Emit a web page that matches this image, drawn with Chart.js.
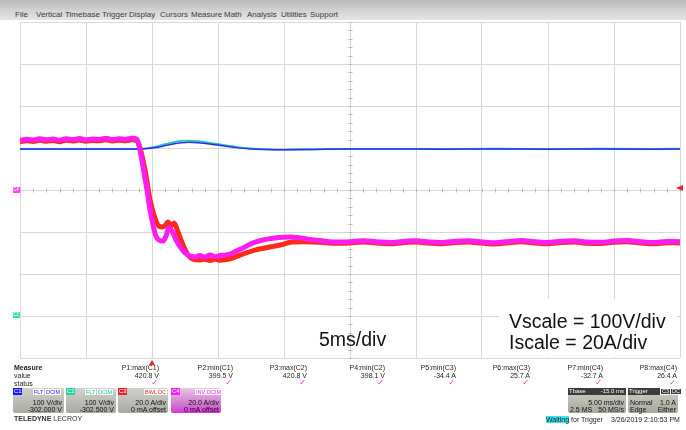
<!DOCTYPE html>
<html><head><meta charset="utf-8">
<script src="https://cdn.jsdelivr.net/npm/chart.js@4/dist/chart.umd.min.js"></script>
<style>
html,body{margin:0;padding:0;background:#fff;}
#wrap{position:relative;width:686px;height:430px;overflow:hidden;background:#fff;font-family:"Liberation Sans",Arial,sans-serif;}
#c{position:absolute;left:0;top:0;}
.t{position:absolute;white-space:nowrap;line-height:8px;font-size:7px;color:#222;}
.menu{position:absolute;left:0;top:0;width:686px;height:20px;background:linear-gradient(#b9b9b9,#d6d6d6 60%,#e4e4e4);}
.mi{position:absolute;top:11px;font-size:8px;line-height:8px;color:#3a3a3a;}
.big{position:absolute;white-space:nowrap;font-size:19.5px;line-height:20px;color:#111;}
.box{position:absolute;height:25px;border-radius:2px;background:linear-gradient(#d2d2cc,#a9a9a2);}
.hdr{position:absolute;left:0;top:0;height:7px;font-size:6px;line-height:7px;color:#fff;padding:0 1px;}
.bdg{position:absolute;top:1px;height:6px;font-size:5.5px;line-height:6px;background:#fff;padding:0 1px;}
.r{position:absolute;right:2px;font-size:7px;line-height:7px;color:#111;white-space:nowrap;}
.l{position:absolute;left:2px;font-size:7px;line-height:7px;color:#111;white-space:nowrap;}
</style></head><body>
<div id="wrap">
<canvas id="c" width="686" height="430"></canvas>
<div class="menu">
<span class="mi" style="left:15px">File</span><span class="mi" style="left:36px">Vertical</span><span class="mi" style="left:65px">Timebase</span><span class="mi" style="left:102px">Trigger</span><span class="mi" style="left:129px">Display</span><span class="mi" style="left:160px">Cursors</span><span class="mi" style="left:191px">Measure</span><span class="mi" style="left:224px">Math</span><span class="mi" style="left:247px">Analysis</span><span class="mi" style="left:281px">Utilities</span><span class="mi" style="left:310px">Support</span>
</div>
<div class="big" style="left:319px;top:329px">5ms/div</div>
<div class="big" style="left:509px;top:311px">Vscale = 100V/div</div>
<div class="big" style="left:509px;top:332px">Iscale = 20A/div</div>
<div id="meas"></div>
<!-- channel boxes -->
<div class="box" style="left:13px;top:388px;width:51px;">
 <div class="hdr" style="background:#1a1aff;width:7px">C1</div>
 <div class="bdg" style="left:20px;color:#1a1aff">FLT</div><div class="bdg" style="left:32px;color:#1a1aff">DCIM</div>
 <div class="r" style="top:11px">100 V/div</div><div class="r" style="top:18px">-302.000 V</div>
</div>
<div class="box" style="left:66px;top:388px;width:50px;">
 <div class="hdr" style="background:#22d39a;width:7px">C2</div>
 <div class="bdg" style="left:19px;color:#22c090">FLT</div><div class="bdg" style="left:31px;color:#22c090">DCIM</div>
 <div class="r" style="top:11px">100 V/div</div><div class="r" style="top:18px">-302.500 V</div>
</div>
<div class="box" style="left:118px;top:388px;width:50px;">
 <div class="hdr" style="background:#ee2222;width:7px">C3</div>
 <div class="bdg" style="left:26px;color:#ee2222">BWL</div><div class="bdg" style="left:39px;color:#ee2222">DC</div>
 <div class="r" style="top:11px">20.0 A/div</div><div class="r" style="top:18px">0 mA offset</div>
</div>
<div class="box" style="left:171px;top:388px;width:50px;background:linear-gradient(#e6c8e2,#d070d0 70%,#e030e0);">
 <div class="hdr" style="background:#ee22ee;width:7px">C4</div>
 <div class="bdg" style="left:24px;color:#ee22ee">INV</div><div class="bdg" style="left:35px;color:#ee22ee">DCIM</div>
 <div class="r" style="top:11px">20.0 A/div</div><div class="r" style="top:18px">0 mA offset</div>
</div>
<div class="t" style="left:14px;top:415px;color:#333;font-size:7px"><b>TELEDYNE</b> LECROY</div>
<!-- timebase / trigger -->
<div class="box" style="left:568px;top:388px;width:58px;background:linear-gradient(#cfcfc8,#a8a8a0);">
 <div class="hdr" style="background:#3c3c3c;width:56px;"><span>Tbase</span><span style="position:absolute;right:2px">-15.0 ms</span></div>
 <div class="r" style="top:11px">5.00 ms/div</div><div class="l" style="top:18px">2.5 MS</div><div class="r" style="top:18px">50 MS/s</div>
</div>
<div class="box" style="left:628px;top:388px;width:50px;background:linear-gradient(#cfcfc8,#a8a8a0);">
 <div class="hdr" style="background:#3c3c3c;width:48px;">Trigger</div>
 <div class="bdg" style="left:32px;color:#fff;background:#3c3c3c;border:1px solid #fff;top:0;height:5px;line-height:5px">C3</div><div class="bdg" style="left:42px;color:#fff;background:#3c3c3c;border:1px solid #fff;top:0;height:5px;line-height:5px">DC</div>
 <div class="l" style="top:11px">Normal</div><div class="r" style="top:11px">1.0 A</div><div class="l" style="top:18px">Edge</div><div class="r" style="top:18px">Either</div>
</div>
<div class="t" style="left:546px;top:416px;font-size:7px"><span style="background:#36e4f2">Waiting</span> for Trigger</div>
<div class="t" style="left:611px;top:416px;font-size:7px">3/26/2019 2:10:53 PM</div>
<div class="t" style="left:13px;top:187px;width:7px;height:6px;line-height:6px;font-size:4.5px;background:#ff40ff;color:#fff">C4</div>
<div class="t" style="left:13px;top:312px;width:7px;height:6px;line-height:6px;font-size:4.5px;background:#30e0a0;color:#fff">C2</div>
</div>
<script>
// ---- measurement table ----
const measNames = ["P1:max(C1)","P2:min(C1)","P3:max(C2)","P4:min(C2)","P5:min(C3)","P6:max(C3)","P7:min(C4)","P8:max(C4)"];
const measValues = ["420.8 V","399.5 V","420.8 V","398.1 V","-34.4 A","25.7 A","-32.7 A","26.4 A"];
const measRight = [159,233,307,385,456,530,603,677];

// ---- voltage traces (time in ms relative to trigger, volts) ----
const vTime = [-10,-8,-6,-4,-2,-1.2,-0.9,-0.3,0.3,0.9,1.5,2.2,2.8,3.5,4.5,5.5,6.5,7.5,8.5,10,11.5,13,15,18,22,26,30,34,38,40];
const c1Volts = [399.6,399.5,399.7,399.6,399.5,399.6,399.6,400.6,403,407,411,414.5,415.6,414.5,411,406.5,402.3,399.8,398.6,398.1,398.4,399.0,399.4,399.5,399.3,399.4,399.3,399.4,399.3,399.4];
const c2Volts = [399.3,399.2,399.4,399.3,399.2,399.3,399.6,401.8,405.5,410.5,415,418.8,419.6,418.2,413.8,408.8,404,400.8,399.3,398.2,398.4,399.2,399.8,400.1,400.0,400.2,400.1,400.2,400.1,400.2];

// ---- current traces (time in ms, amps) ----
const c4Time = [-10,-9.5,-9,-8.5,-8,-7.5,-7,-6.5,-6,-5.5,-5,-4.5,-4,-3.5,-3,-2.5,-2,-1.5,-1.15,-0.91,-0.68,-0.38,-0.15,0.08,0.3,0.53,0.83,1.06,1.29,1.52,1.82,2.12,2.5,2.88,3.26,3.6,4.0,4.4,4.8,5.15,5.5,5.91,6.4,6.89,7.65,8.41,9.32,10.45,11.2,11.97,13,14,15,16,17,18,19,20,21,22,23,24,25,26,27,28,29,30,31,32,33,34,35,36,37,38,39,40];
const c4Amps = [23.6,24.2,23.8,24.4,23.9,24.3,23.7,24.4,24.0,24.5,23.9,24.3,24.1,24.6,24.0,24.4,24.2,24.6,24.3,19,11,0,-9.5,-16.7,-22,-23.8,-24.3,-22,-18,-19.5,-23.8,-27,-30,-31.4,-31.9,-31.2,-31.9,-31.0,-31.8,-31.2,-31.0,-30.5,-29,-27.6,-25.2,-23.8,-22.9,-22.4,-22.8,-23.6,-24.3,-24.8,-24.6,-24.2,-24.6,-25.0,-24.5,-24.2,-24.7,-25.0,-24.4,-24.2,-24.7,-25.1,-24.5,-24.1,-24.6,-25.0,-24.4,-24.2,-24.8,-24.9,-24.3,-24.1,-24.6,-25.0,-24.5,-24.6];
const c3Time = [-10,-9.5,-9,-8.5,-8,-7.5,-7,-6.5,-6,-5.5,-5,-4.5,-4,-3.5,-3,-2.5,-2,-1.5,-1.15,-0.91,-0.53,-0.15,0.15,0.45,0.76,0.98,1.21,1.44,1.67,1.97,2.35,2.73,3.11,3.64,4.0,4.4,4.8,5.15,5.53,6.1,6.67,7.2,7.8,8.56,9.7,10.6,11.5,12.73,14,15,16,17,18,19,20,21,22,23,24,25,26,27,28,29,30,31,32,33,34,35,36,37,38,39,40];
const c3Amps = [23.0,23.5,23.1,23.7,23.2,23.6,23.0,23.7,23.3,23.8,23.2,23.6,23.4,23.9,23.3,23.7,23.5,23.9,23.6,20,9.5,-4.8,-11.9,-16.7,-17.6,-17.1,-15.2,-17.1,-15.7,-20,-26.2,-31,-32.9,-33.3,-33.0,-33.6,-33.0,-33.4,-33.2,-32.4,-31,-29.8,-28.6,-27.6,-26.2,-24.8,-24.6,-24.9,-25.4,-25.2,-24.8,-25.2,-25.6,-25.1,-24.8,-25.3,-25.6,-25.0,-24.8,-25.3,-25.7,-25.1,-24.7,-25.2,-25.6,-25.0,-24.8,-25.4,-25.5,-24.9,-24.7,-25.2,-25.6,-25.1,-25.2];

// measurement HTML
(function(){
  const m = document.getElementById('meas');
  let h = '<div class="t" style="left:14px;top:364px"><b>Measure</b></div><div class="t" style="left:14px;top:372px">value</div><div class="t" style="left:14px;top:380px">status</div>';
  measNames.forEach((n,i)=>{
    const r = 686 - measRight[i];
    h += '<div class="t" style="right:'+r+'px;top:364px;text-align:right">'+n+'</div>';
    h += '<div class="t" style="right:'+r+'px;top:372px;text-align:right">'+measValues[i]+'</div>';
    h += '<div class="t" style="right:'+(r+1)+'px;top:379px;color:#f020e0;font-weight:bold;font-size:8px;font-family:DejaVu Sans">✓</div>';
  });
  m.innerHTML = h;
})();

const pts = (ts, vs) => ts.map((t,i)=>({x:t,y:vs[i]}));

const scopePlugin = {
  id:'scope',
  beforeDatasetsDraw(chart){
    const {ctx, chartArea:a, scales} = chart;
    const x = scales.x, yI = scales.yI;
    ctx.save();
    ctx.fillStyle = '#fff';
    ctx.fillRect(499, 299, a.right - 499 - 3, a.bottom - 299 - 1);
    ctx.strokeStyle = '#b8b8b8'; ctx.lineWidth = 1;
    const yc = Math.round(yI.getPixelForValue(0)) + 0.5;
    for (let t = -10; t <= 40; t += 1) {
      const px = Math.round(x.getPixelForValue(t)) + 0.5;
      ctx.beginPath(); ctx.moveTo(px, yc - 2); ctx.lineTo(px, yc + 2); ctx.stroke();
    }
    const xc = Math.round(x.getPixelForValue(15)) + 0.5;
    for (let v = -80; v <= 80; v += 4) {
      const py = Math.round(yI.getPixelForValue(v)) + 0.5;
      ctx.beginPath(); ctx.moveTo(xc - 2, py); ctx.lineTo(xc + 2, py); ctx.stroke();
    }
    ctx.restore();
  },
  afterDatasetsDraw(chart){
    const {ctx, chartArea:a, scales} = chart;
    ctx.save();
    ctx.fillStyle = '#ee2020';
    const ty = scales.yI.getPixelForValue(1.0);
    ctx.beginPath(); ctx.moveTo(a.right - 4, ty); ctx.lineTo(a.right + 3, ty - 3); ctx.lineTo(a.right + 3, ty + 3); ctx.closePath(); ctx.fill();
    const tx = scales.x.getPixelForValue(0);
    ctx.beginPath(); ctx.moveTo(tx, a.bottom + 2); ctx.lineTo(tx - 3, a.bottom + 7); ctx.lineTo(tx + 3, a.bottom + 7); ctx.closePath(); ctx.fill();
    ctx.restore();
  }
};

new Chart(document.getElementById('c'), {
  type:'line',
  data:{datasets:[
    {label:'C4', data:pts(c4Time,c4Amps), yAxisID:'yI', borderColor:'#ff1cf0', borderWidth:5, order:1},
    {label:'C3', data:pts(c3Time,c3Amps), yAxisID:'yI', borderColor:'#ff2a1a', borderWidth:5, order:2},
    {label:'C1', data:pts(vTime,c1Volts), yAxisID:'yV', borderColor:'#2a2aff', borderWidth:1.5, order:3},
    {label:'C2', data:pts(vTime,c2Volts), yAxisID:'yV', borderColor:'#22c8a8', borderWidth:1.8, order:4}
  ]},
  options:{
    responsive:false, animation:false, devicePixelRatio:1,
    layout:{padding:{left:20, top:22, right:6, bottom:72}},
    elements:{point:{radius:0}, line:{cubicInterpolationMode:'monotone', borderJoinStyle:'round', borderCapStyle:'round'}},
    plugins:{legend:{display:false}, tooltip:{enabled:false}},
    scales:{
      x:{type:'linear', min:-10, max:40, ticks:{display:false, stepSize:5}, grid:{color:'#d8d8d8', drawTicks:false}, border:{display:false}},
      yI:{type:'linear', position:'left', min:-80, max:80, ticks:{display:false, stepSize:20}, grid:{color:'#d8d8d8', drawTicks:false}, border:{display:false}},
      yV:{type:'linear', display:false, min:-98, max:702}
    }
  },
  plugins:[scopePlugin]
});
</script>
</body></html>
